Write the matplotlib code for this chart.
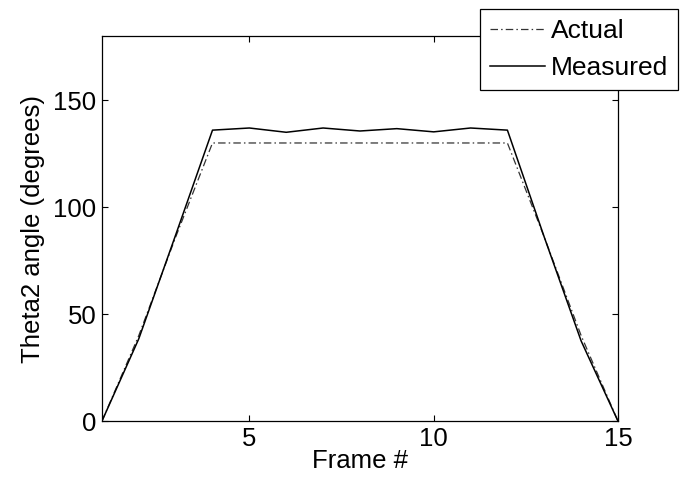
import matplotlib
matplotlib.use("Agg")
import matplotlib.pyplot as plt

frames = list(range(1, 16))
actual = [0, 40, 86, 130, 130, 130, 130, 130, 130, 130, 130, 130, 86, 40, 0]
measured = [0, 38.5, 87, 136, 137, 135, 137, 135.6, 136.7, 135.2, 137, 136, 86, 37.5, 0]

plt.rcParams['font.family'] = ['Liberation Sans', 'DejaVu Sans']
fig = plt.figure(figsize=(6.84, 4.83), dpi=100)
ax = fig.add_axes([0.149, 0.128, 0.7545, 0.7975])

ax.plot(frames, actual, color='#333333', linestyle=(0, (6, 2.5, 1.2, 2.5)), lw=0.9, label='Actual')
ax.plot(frames, measured, color='black', linestyle='-', lw=1.1, label='Measured')

ax.set_xlim(1, 15)
ax.set_ylim(0, 180)
ax.set_xticks([5, 10, 15])
ax.set_yticks([0, 50, 100, 150])
ax.tick_params(direction='in', top=True, right=True, length=4.5, width=0.8, labelsize=18.5, pad=4)
for s in ax.spines.values():
    s.set_linewidth(0.9)
ax.set_xlabel('Frame #', fontsize=18.5, labelpad=-1)
ax.set_ylabel('Theta2 angle (degrees)', fontsize=18.5, labelpad=6)

leg = ax.legend(loc='upper right', bbox_to_anchor=(678/684, 1 - 9/483), bbox_transform=fig.transFigure,
                fontsize=19, frameon=True, fancybox=False, edgecolor='black', framealpha=1,
                handlelength=2.1, handletextpad=0.2, borderpad=0.38, labelspacing=0.5, borderaxespad=0)
leg.get_frame().set_linewidth(0.9)

fig.savefig('out.png', dpi=100)
